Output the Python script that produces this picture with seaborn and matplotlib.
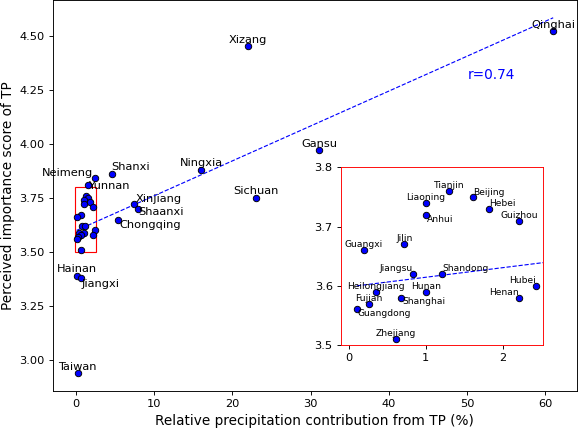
import numpy as np
import pandas as pd
import matplotlib
matplotlib.use('Agg')
import matplotlib.pyplot as plt
from matplotlib.patches import Rectangle
import seaborn as sns

provinces = ['Qinghai', 'Xizang', 'Gansu', 'Ningxia', 'Sichuan', 'Shanxi', 'Xinjiang',
             'Shaanxi', 'Chongqing', 'Neimeng', 'Yunnan', 'Hainan', 'Jiangxi', 'Taiwan',
             'Tianjin', 'Beijing', 'Liaoning', 'Hebei', 'Anhui', 'Guizhou', 'Jilin',
             'Guangxi', 'Jiangsu', 'Shandong', 'Hubei', 'Heilongjiang', 'Hunan', 'Henan',
             'Shanghai', 'Fujian', 'Guangdong', 'Zhejiang']
contribution = [61.0, 22.0, 31.1, 16.0, 23.0, 4.6, 7.5,
                7.9, 5.4, 2.4, 1.5, 0.1, 0.7, 0.25,
                1.3, 1.62, 1.0, 1.82, 1.0, 2.22, 0.72,
                0.19, 0.83, 1.21, 2.43, 0.35, 1.0, 2.22,
                0.68, 0.26, 0.1, 0.61]
score = [4.52, 4.45, 3.97, 3.88, 3.75, 3.86, 3.72,
         3.70, 3.65, 3.84, 3.81, 3.39, 3.38, 2.94,
         3.76, 3.75, 3.74, 3.73, 3.72, 3.71, 3.67,
         3.66, 3.62, 3.62, 3.60, 3.59, 3.59, 3.58,
         3.58, 3.57, 3.56, 3.51]

# label offsets (points) where the default (centred just above the dot) collides
main_offsets = {'Shanxi': (16.7, 6.1), 'Neimeng': (-23.4, 4.9), 'Yunnan': (18.4, -0.6),
                'Xinjiang': (21.7, 4.9), 'Shaanxi': (20.5, -3.2), 'Chongqing': (27.9, -5.0),
                'Jiangxi': (16.7, -5.3)}
inset_offsets = {'Beijing': (14, 4.0), 'Hebei': (12.3, 4.4), 'Anhui': (12.3, -3.8),
                 'Jiangsu': (-15, 4.4), 'Shandong': (20.8, 4.4), 'Hubei': (-11.7, 4.7),
                 'Henan': (-13.2, 4.4), 'Shanghai': (19.9, -3.5), 'Guangdong': (24.4, -3.8)}

df = pd.DataFrame({'province': provinces, 'x': contribution, 'y': score})

inset_xlim = (-0.11, 2.53)
inset_ylim = (3.5, 3.8)

dpi = 82
fig = plt.figure(figsize=(578 / dpi, 429 / dpi), dpi=dpi)
ax = fig.add_axes([0.0912, 0.0886, 0.9071, 0.9114])
axin = fig.add_axes([0.5894, 0.1958, 0.3505, 0.4142])

slope, intercept = np.polyfit(df['x'], df['y'], 1)
r = np.corrcoef(df['x'], df['y'])[0, 1]
xs = np.array([df['x'].min(), df['x'].max()])

for a in (ax, axin):
    a.plot(xs, intercept + slope * xs, color='blue', ls='--', lw=1)
    sns.scatterplot(data=df, x='x', y='y', ax=a, color='blue', edgecolor='black',
                    s=32, linewidth=0.8, zorder=3)

in_box = ((df['x'] >= inset_xlim[0]) & (df['x'] <= inset_xlim[1])
          & (df['y'] >= inset_ylim[0]) & (df['y'] <= inset_ylim[1]))

for _, row in df[~in_box].iterrows():
    ax.annotate(row['province'], (row['x'], row['y']),
                xytext=main_offsets.get(row['province'], (0, 5.7)),
                textcoords='offset points', ha='center', va='center', fontsize=10)

for _, row in df[in_box].iterrows():
    axin.annotate(row['province'], (row['x'], row['y']),
                  xytext=inset_offsets.get(row['province'], (0, 4.8)),
                  textcoords='offset points', ha='center', va='center', fontsize=8)

ax.text(53.1, 4.32, f'r={r:.2f}', color='blue', fontsize=12, ha='center', va='center')
ax.add_patch(Rectangle((inset_xlim[0], inset_ylim[0]), inset_xlim[1] - inset_xlim[0],
                       inset_ylim[1] - inset_ylim[0], fill=False, edgecolor='red', lw=1))

ax.set_xlabel('Relative precipitation contribution from TP (%)', fontsize=12)
ax.set_ylabel('Perceived importance score of TP', fontsize=12)
ax.set_yticks([3.0, 3.25, 3.5, 3.75, 4.0, 4.25, 4.5])

axin.set_xlim(inset_xlim)
axin.set_ylim(inset_ylim)
axin.set_xticks([0, 1, 2])
axin.set_yticks([3.5, 3.6, 3.7, 3.8])
axin.set_xlabel('')
axin.set_ylabel('')
for spine in axin.spines.values():
    spine.set_edgecolor('red')

fig.savefig('out.png', dpi=dpi)
